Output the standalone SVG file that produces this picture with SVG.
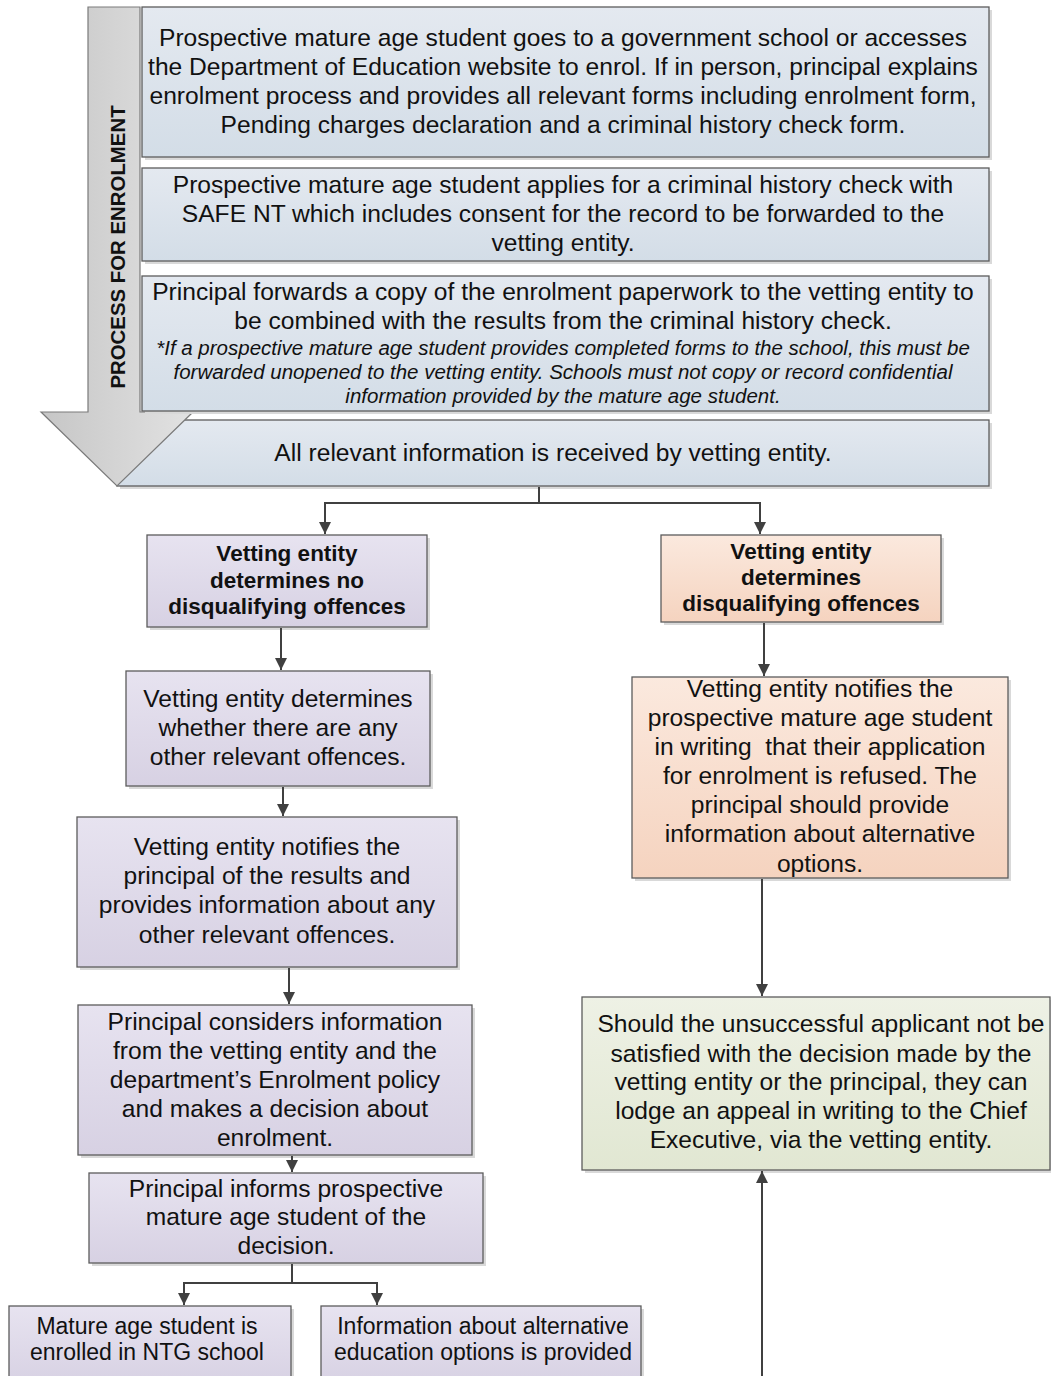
<svg xmlns="http://www.w3.org/2000/svg" width="1051" height="1376" viewBox="0 0 1051 1376">
<defs>
<linearGradient id="gBlue" x1="0" y1="0" x2="0" y2="1"><stop offset="0" stop-color="#e4e9f0"/><stop offset="1" stop-color="#d3dde7"/></linearGradient>
<linearGradient id="gPurple" x1="0" y1="0" x2="0" y2="1"><stop offset="0" stop-color="#e7e3f0"/><stop offset="1" stop-color="#d7d1e3"/></linearGradient>
<linearGradient id="gOrange" x1="0" y1="0" x2="0" y2="1"><stop offset="0" stop-color="#fbe9de"/><stop offset="1" stop-color="#f5d3bf"/></linearGradient>
<linearGradient id="gGreen" x1="0" y1="0" x2="0" y2="1"><stop offset="0" stop-color="#eef1e5"/><stop offset="1" stop-color="#e1e7d2"/></linearGradient>
<linearGradient id="gArrow" x1="0" y1="0" x2="1" y2="0"><stop offset="0" stop-color="#c6c6c6"/><stop offset="1" stop-color="#e2e2e2"/></linearGradient>
<marker id="ah" viewBox="0 0 10 10" refX="10" refY="5" markerWidth="12" markerHeight="12" markerUnits="userSpaceOnUse" orient="auto">
<path d="M0,0 L10,5 L0,10 z" fill="#404040"/>
</marker>
<style>
.box{stroke:#5c5c5c;stroke-width:1.3}
.sh{fill:#d9d9d9}
.blue{fill:url(#gBlue)}
.purple{fill:url(#gPurple)}
.orange{fill:url(#gOrange)}
.green{fill:url(#gGreen)}
text{font-family:"Liberation Sans",Arial,sans-serif;fill:#111;text-anchor:middle}
.t{font-size:24.6px}
.b{font-size:22.5px;font-weight:bold}
.i{font-size:20.5px;font-style:italic}
.s{font-size:23px}
.con{fill:none;stroke:#404040;stroke-width:2}
</style>
</defs>

<g id="box-all-info">
<rect class="sh" x="120" y="423" width="872" height="66"/>
<rect class="box blue" x="117" y="420" width="872" height="66"/>
<text class="t" x="553" y="461">All relevant information is received by vetting entity.</text>
</g>

<g id="process-arrow">
<polygon points="88,7 140,7 140,412 193,412 117,486 41,412 88,412" fill="url(#gArrow)" stroke="#7a7a7a" stroke-width="1.2"/>
<text x="0" y="0" transform="translate(125,247) rotate(-90)" style="font-size:20.4px;font-weight:bold">PROCESS FOR ENROLMENT</text>
</g>

<g id="box-step1">
<rect class="sh" x="145" y="10" width="847" height="150"/>
<rect class="box blue" x="142" y="7" width="847" height="150"/>
<text class="t" x="563" y="46">Prospective mature age student goes to a government school or accesses</text>
<text class="t" x="563" y="75">the Department of Education website to enrol. If in person, principal explains</text>
<text class="t" x="563" y="104">enrolment process and provides all relevant forms including enrolment form,</text>
<text class="t" x="563" y="133">Pending charges declaration and a criminal history check form.</text>
</g>

<g id="box-step2">
<rect class="sh" x="145" y="171" width="847" height="93"/>
<rect class="box blue" x="142" y="168" width="847" height="93"/>
<text class="t" x="563" y="193">Prospective mature age student applies for a criminal history check with</text>
<text class="t" x="563" y="222">SAFE NT which includes consent for the record to be forwarded to the</text>
<text class="t" x="563" y="251">vetting entity.</text>
</g>

<g id="box-step3">
<rect class="sh" x="145" y="279" width="847" height="135"/>
<rect class="box blue" x="142" y="276" width="847" height="135"/>
<text class="t" x="563" y="300">Principal forwards a copy of the enrolment paperwork to the vetting entity to</text>
<text class="t" x="563" y="329">be combined with the results from the criminal history check.</text>
<text class="i" x="563" y="355">*If a prospective mature age student provides completed forms to the school, this must be</text>
<text class="i" x="563" y="379">forwarded unopened to the vetting entity. Schools must not copy or record confidential</text>
<text class="i" x="563" y="403">information provided by the mature age student.</text>
</g>

<g id="box-no-disq">
<rect class="sh" x="150" y="538" width="280" height="92"/>
<rect class="box purple" x="147" y="535" width="280" height="92"/>
<text class="b" x="287" y="561">Vetting entity</text>
<text class="b" x="287" y="588">determines no</text>
<text class="b" x="287" y="614">disqualifying offences</text>
</g>

<g id="box-other-offences">
<rect class="sh" x="129" y="674" width="304" height="115"/>
<rect class="box purple" x="126" y="671" width="304" height="115"/>
<text class="t" x="278" y="707">Vetting entity determines</text>
<text class="t" x="278" y="736">whether there are any</text>
<text class="t" x="278" y="765">other relevant offences.</text>
</g>

<g id="box-notify-principal">
<rect class="sh" x="80" y="820" width="380" height="150"/>
<rect class="box purple" x="77" y="817" width="380" height="150"/>
<text class="t" x="267" y="855">Vetting entity notifies the</text>
<text class="t" x="267" y="884">principal of the results and</text>
<text class="t" x="267" y="913">provides information about any</text>
<text class="t" x="267" y="943">other relevant offences.</text>
</g>

<g id="box-principal-considers">
<rect class="sh" x="81" y="1008" width="394" height="150"/>
<rect class="box purple" x="78" y="1005" width="394" height="150"/>
<text class="t" x="275" y="1030">Principal considers information</text>
<text class="t" x="275" y="1059">from the vetting entity and the</text>
<text class="t" x="275" y="1088">department’s Enrolment policy</text>
<text class="t" x="275" y="1117">and makes a decision about</text>
<text class="t" x="275" y="1146">enrolment.</text>
</g>

<g id="box-principal-informs">
<rect class="sh" x="92" y="1176" width="394" height="90"/>
<rect class="box purple" x="89" y="1173" width="394" height="90"/>
<text class="t" x="286" y="1197">Principal informs prospective</text>
<text class="t" x="286" y="1225">mature age student of the</text>
<text class="t" x="286" y="1254">decision.</text>
</g>

<g id="box-enrolled">
<rect class="sh" x="12" y="1309" width="282" height="80"/>
<rect class="box purple" x="9" y="1306" width="282" height="80"/>
<text class="s" x="147" y="1334">Mature age student is</text>
<text class="s" x="147" y="1360">enrolled in NTG school</text>
</g>

<g id="box-alternative">
<rect class="sh" x="324" y="1309" width="320" height="80"/>
<rect class="box purple" x="321" y="1306" width="320" height="80"/>
<text class="s" x="483" y="1334">Information about alternative</text>
<text class="s" x="483" y="1360">education options is provided</text>
</g>

<g id="box-disq">
<rect class="sh" x="664" y="538" width="280" height="87"/>
<rect class="box orange" x="661" y="535" width="280" height="87"/>
<text class="b" x="801" y="559">Vetting entity</text>
<text class="b" x="801" y="585">determines</text>
<text class="b" x="801" y="611">disqualifying offences</text>
</g>

<g id="box-refused">
<rect class="sh" x="635" y="680" width="376" height="201"/>
<rect class="box orange" x="632" y="677" width="376" height="201"/>
<text class="t" x="820" y="697">Vetting entity notifies the</text>
<text class="t" x="820" y="726">prospective mature age student</text>
<text class="t" x="820" y="755">in writing&#160; that their application</text>
<text class="t" x="820" y="784">for enrolment is refused. The</text>
<text class="t" x="820" y="813">principal should provide</text>
<text class="t" x="820" y="842">information about alternative</text>
<text class="t" x="820" y="872">options.</text>
</g>

<g id="box-appeal">
<rect class="sh" x="585" y="1000" width="468" height="173"/>
<rect class="box green" x="582" y="997" width="468" height="173"/>
<text class="t" x="821" y="1032">Should the unsuccessful applicant not be</text>
<text class="t" x="821" y="1062">satisfied with the decision made by the</text>
<text class="t" x="821" y="1090">vetting entity or the principal, they can</text>
<text class="t" x="821" y="1119">lodge an appeal in writing to the Chief</text>
<text class="t" x="821" y="1148">Executive, via the vetting entity.</text>
</g>

<g id="connectors">
<polyline class="con" points="539,487 539,503 325,503 325,534" marker-end="url(#ah)"/>
<polyline class="con" points="539,503 760,503 760,534" marker-end="url(#ah)"/>
<line class="con" x1="281" y1="628" x2="281" y2="670" marker-end="url(#ah)"/>
<line class="con" x1="283" y1="787" x2="283" y2="816" marker-end="url(#ah)"/>
<line class="con" x1="289" y1="968" x2="289" y2="1004" marker-end="url(#ah)"/>
<line class="con" x1="292" y1="1156" x2="292" y2="1172" marker-end="url(#ah)"/>
<polyline class="con" points="292,1264 292,1283 184,1283 184,1305" marker-end="url(#ah)"/>
<polyline class="con" points="292,1283 377,1283 377,1305" marker-end="url(#ah)"/>
<line class="con" x1="764" y1="623" x2="764" y2="676" marker-end="url(#ah)"/>
<line class="con" x1="762" y1="879" x2="762" y2="996" marker-end="url(#ah)"/>
<line class="con" x1="762" y1="1376" x2="762" y2="1171" marker-end="url(#ah)"/>
</g>
</svg>
